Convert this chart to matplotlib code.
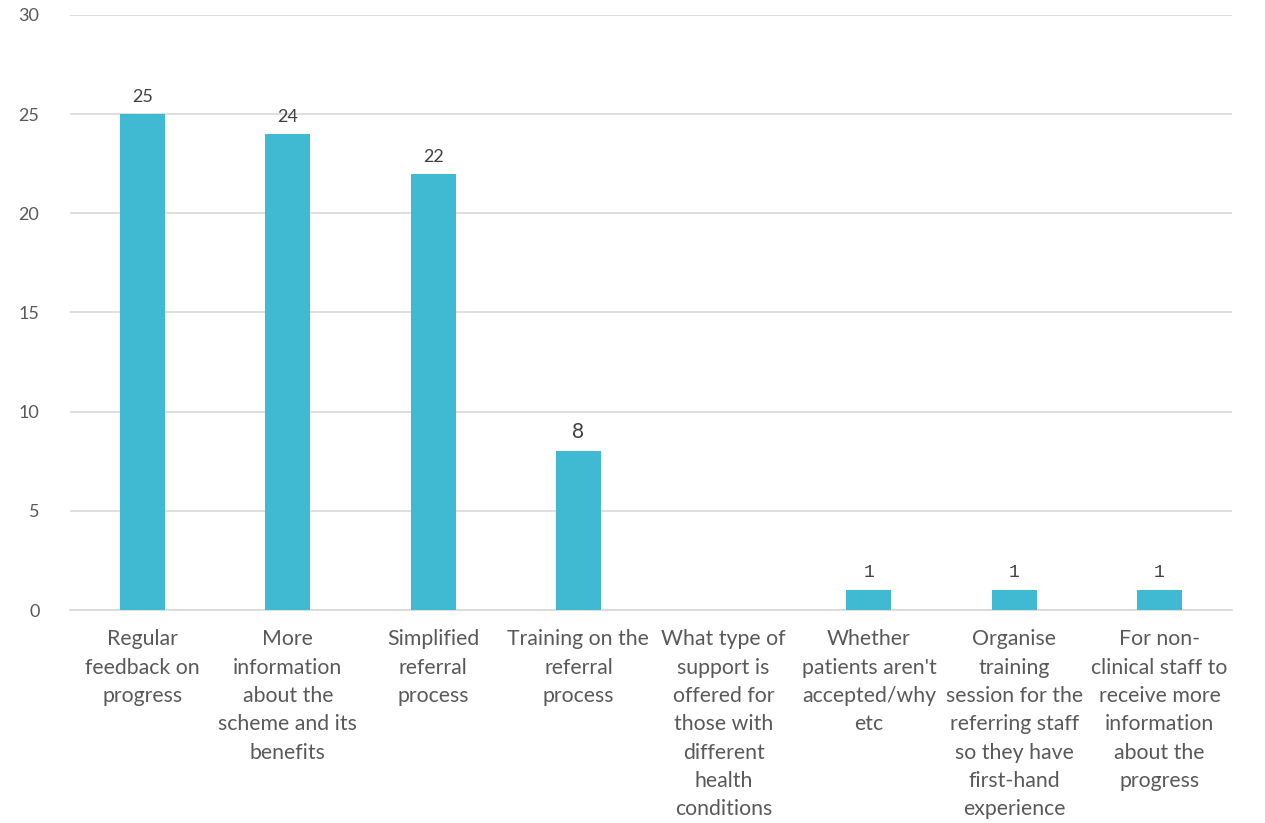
import numpy as np
import matplotlib
matplotlib.use("Agg")
import matplotlib.pyplot as plt

plt.rcParams['font.family'] = ['Lato', 'DejaVu Sans']

# Suggested improvements and number of responses
categories = [
    "Regular\nfeedback on\nprogress",
    "More\ninformation\nabout the\nscheme and its\nbenefits",
    "Simplified\nreferral\nprocess",
    "Training on the\nreferral\nprocess",
    "What type of\nsupport is\noffered for\nthose with\ndifferent\nhealth\nconditions",
    "Whether\npatients aren't\naccepted/why\netc",
    "Organise\ntraining\nsession for the\nreferring staff\nso they have\nfirst-hand\nexperience",
    "For non-\nclinical staff to\nreceive more\ninformation\nabout the\nprogress",
]
counts = [25, 24, 22, 8, np.nan, 1, 1, 1]

bar_color = "#40B9D3"
text_color = "#595959"
grid_color = "#D9D9D9"

fig = plt.figure(figsize=(12.65, 8.23), dpi=100)
ax = fig.add_axes([0.0553, 0.2588, 0.9187, 0.723])

x = np.arange(len(categories))
heights = np.nan_to_num(counts)
bars = ax.bar(x, heights, width=0.31, color=bar_color, zorder=3)

for xi, val in zip(x, counts):
    if np.isnan(val):
        continue
    fam = ['Liberation Mono'] if val == 1 else ['Lato', 'DejaVu Sans']
    ax.text(xi, val + 0.45, "%d" % val, ha='center', va='bottom',
            fontsize=13 if val != 8 else 15, color="#404040", family=fam)

ax.set_xlim(-0.5, len(categories) - 0.5)
ax.set_ylim(0, 30)
ax.set_yticks(np.arange(0, 31, 5))
ax.set_xticks(x)
ax.set_xticklabels(categories, fontsize=15.3, color=text_color, linespacing=1.52)
ax.tick_params(axis='x', length=0, pad=14)
ax.tick_params(axis='y', length=0, pad=22, labelsize=13, labelcolor=text_color)

ax.grid(axis='y', color=grid_color, linewidth=1.2, zorder=0)
for side in ['top', 'right', 'left']:
    ax.spines[side].set_visible(False)
ax.spines['bottom'].set_color(grid_color)
ax.spines['bottom'].set_linewidth(1.2)

fig.savefig("out.png", dpi=100)
